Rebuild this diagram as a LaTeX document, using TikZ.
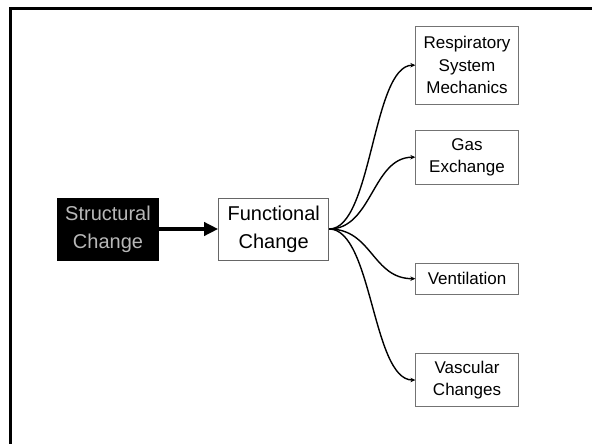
\documentclass[tikz,border=0pt]{standalone}
\usepackage{fontspec}
\setmainfont{Liberation Sans}
\usetikzlibrary{arrows.meta}
\tikzset{
  bigbox/.style={draw=black!60, line width=1pt, align=center, inner sep=0pt,
    font=\fontsize{20}{28}\selectfont, minimum height=62pt},
  smallbox/.style={draw=black!55, line width=1pt, align=center, inner sep=0pt,
    font=\fontsize{17}{22.5}\selectfont, minimum width=102.3pt},
  curvearrow/.style={line width=1.4pt, -{Stealth[length=5pt,width=4.5pt]}},
  thickarrow/.style={line width=4.5pt, -{Triangle[length=14pt,width=13pt]}},
  frameline/.style={line width=3pt}
}
\begin{document}
\begin{tikzpicture}[x=1pt,y=-1pt]
\useasboundingbox (0,0) rectangle (592,444);
\draw[frameline] (10.5,450) -- (10.5,8.5) -- (600,8.5);

\node[bigbox, fill=black, draw=black, text=black!28, minimum width=101.4pt] (S) at (108,229) {Structural\\Change};
\node[bigbox, minimum width=110pt] (F) at (273.7,229) {Functional\\Change};

\node[smallbox, minimum height=77.7pt] (R) at (467,65.2) {Respiratory\\System\\Mechanics};
\node[smallbox, minimum height=53.7pt] (G) at (467,157.2) {Gas\\Exchange};
\node[smallbox, minimum height=30.7pt] (V) at (467,278.7) {Ventilation};
\node[smallbox, minimum height=53.4pt] (C) at (467,380) {Vascular\\Changes};

\draw[thickarrow] (S.east) -- (F.west);

\foreach \t in {R,G,V,C}{
  \draw[curvearrow] (F.east) .. controls +(43,0) and +(-43,0) .. (\t.west);
}
\end{tikzpicture}
\end{document}
